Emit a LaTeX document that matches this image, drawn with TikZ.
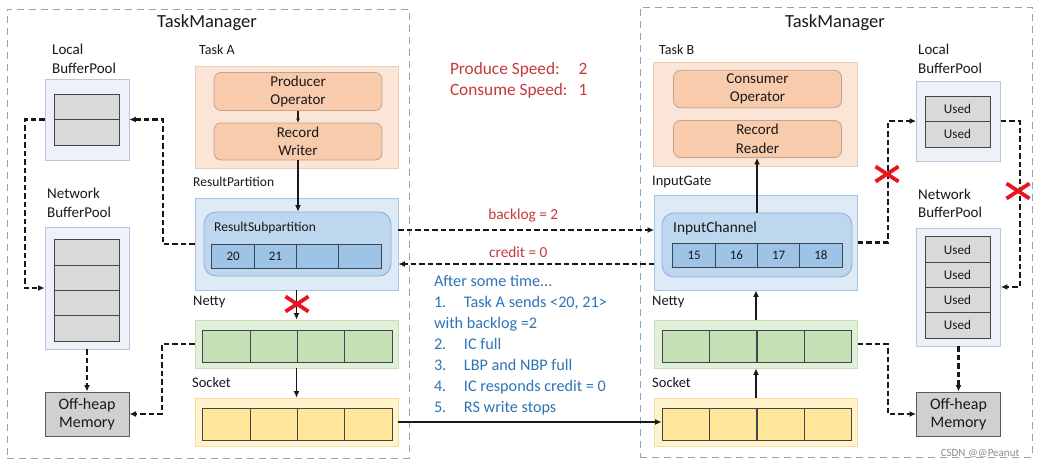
\documentclass[tikz,border=0pt]{standalone}
\usepackage{fontspec}
\setmainfont{Carlito}
\usetikzlibrary{arrows.meta,shapes.misc}

\definecolor{tmline}{HTML}{8FA3BF}
\definecolor{taskfill}{HTML}{FBE5D6}
\definecolor{taskline}{HTML}{EDCBB3}
\definecolor{opfill}{HTML}{F8CBAD}
\definecolor{opline}{HTML}{C4A38D}
\definecolor{rpfill}{HTML}{DEEBF7}
\definecolor{rpline}{HTML}{A9C4E4}
\definecolor{rspfill}{HTML}{BDD7EE}
\definecolor{rspline}{HTML}{8FAADC}
\definecolor{rcell}{HTML}{9DC3E6}
\definecolor{nettyfill}{HTML}{E2F0D9}
\definecolor{nettyline}{HTML}{C5E0B4}
\definecolor{ncell}{HTML}{C5E0B4}
\definecolor{sockfill}{HTML}{FFF2CC}
\definecolor{sockline}{HTML}{F3DE9E}
\definecolor{scell}{HTML}{FFE699}
\definecolor{poolfill}{HTML}{EEF1F8}
\definecolor{poolline}{HTML}{B8C6DE}
\definecolor{pcell}{HTML}{D9D9D9}
\definecolor{offfill}{HTML}{D0D0D0}
\definecolor{offline}{HTML}{5A5A5A}
\definecolor{celline}{HTML}{3E4650}
\definecolor{txtred}{HTML}{C8383C}
\definecolor{txtblue}{HTML}{2E75B6}
\definecolor{xred}{HTML}{E8141E}

\begin{document}
\begin{tikzpicture}[x=1pt,y=-1pt,
        every node/.style={inner sep=0pt,outer sep=0pt,text=black!90},
        ttl/.style={font=\fontsize{18.5}{20}\selectfont},
        link/.style={draw=black!90,line width=2.1pt,dash pattern=on 5.5pt off 3pt,-{Latex[length=6.5pt,width=6pt]}},
        flow/.style={draw=black!90,line width=1.9pt,-{Latex[length=6.5pt,width=6pt]}},
        redx/.style={cross out,draw=xred,line width=3.8pt,minimum width=23pt,minimum height=15pt}]
        \fill[white] (0,0) rectangle (1049,469);
        \useasboundingbox (0,0) rectangle (1049,469);

        % task managers
        \begin{scope}[every node/.style={draw=tmline,line width=1pt,dash pattern=on 7pt off 5pt,inner sep=0pt}]
            \node[minimum width=402pt,minimum height=449pt] (tmA) at (208,233.5) {};
            \node[minimum width=392pt,minimum height=450pt] (tmB) at (836,232) {};
        \end{scope}
        \node[ttl] (tmAt) at (207,23) {TaskManager};
        \node[ttl] (tmBt) at (835,23) {TaskManager};

        % buffer pools
        \begin{scope}[every node/.style={draw=poolline,fill=poolfill,line width=0.8pt,inner sep=0pt,minimum width=84pt}]
            \node[minimum height=81pt] (lbpA) at (87,119.5) {};
            \node[minimum height=122pt] (nbpA) at (87,288) {};
            \node[minimum height=80pt] (lbpB) at (958.5,121) {};
            \node[minimum height=118pt] (nbpB) at (958.5,287) {};
        \end{scope}
        \begin{scope}[every node/.style={draw=celline,fill=pcell,line width=1pt,inner sep=0pt,minimum width=65pt,minimum height=25.5pt,text=black!90,font=\fontsize{13.2}{14}\selectfont}]
            \node (lcA1) at (86.5,106.75) {};
            \node (lcA2) at (86.5,132.25) {};

            \node[minimum height=25.25pt] (ncA1) at (86.5,252.6) {};
            \node[minimum height=25.25pt] (ncA2) at (86.5,277.9) {};
            \node[minimum height=25.25pt] (ncA3) at (86.5,303.1) {};
            \node[minimum height=25.25pt] (ncA4) at (86.5,328.4) {};

            \node (lcB1) at (957.5,108.75) {Used};
            \node (lcB2) at (957.5,134.25) {Used};

            \node[minimum height=25.25pt] (ncB1) at (957.5,249.6) {Used};
            \node[minimum height=25.25pt] (ncB2) at (957.5,274.9) {Used};
            \node[minimum height=25.25pt] (ncB3) at (957.5,300.1) {Used};
            \node[minimum height=25.25pt] (ncB4) at (957.5,325.4) {Used};
        \end{scope}
        \begin{scope}[every node/.style={draw=offline,fill=offfill,line width=1pt,minimum width=84pt,minimum height=44pt,align=center,text=black!90,font=\fontsize{16}{17.5}\selectfont}]
            \node (offA) at (87,414) {Off-heap\\Memory};
            \node (offB) at (958.5,414) {Off-heap\\Memory};
        \end{scope}

        % tasks
        \begin{scope}[every node/.style={draw=taskline,fill=taskfill,line width=0.8pt}]
            \node[minimum width=203pt,minimum height=102pt] (taskA) at (296.5,117) {};
            \node[minimum width=204pt,minimum height=104pt] (taskB) at (755,114) {};
        \end{scope}
        \begin{scope}[every node/.style={draw=opline,fill=opfill,line width=0.8pt,rounded corners=7pt,minimum width=168pt,minimum height=37pt,align=center,text=black!90,font=\fontsize{15}{18.5}\selectfont}]
            \node (prod) at (298,91.5) {Producer\\Operator};
            \node (rw) at (298,141.5) {Record\\Writer};
            \node (cons) at (757.5,89) {Consumer\\Operator};
            \node (rr) at (757.5,139) {Record\\Reader};
        \end{scope}

        % result partition / input gate
        \begin{scope}[every node/.style={draw=rpline,fill=rpfill,line width=0.8pt,minimum width=203pt}]
            \node[minimum height=92pt] (rpA) at (296.5,244) {};
            \node[minimum height=95pt] (igB) at (756,242.5) {};
        \end{scope}
        \begin{scope}[every node/.style={draw=rspline,fill=rspfill,line width=0.8pt,rounded corners=12pt,minimum height=64pt}]
            \node[minimum width=187pt] (rspA) at (297.5,244) {};
            \node[minimum width=190pt] (icB) at (757,245) {};
        \end{scope}
        \begin{scope}[every node/.style={draw=celline,fill=rcell,line width=1pt,minimum width=42.25pt,minimum height=24pt,text=black!90,font=\fontsize{13}{14}\selectfont}]
            \node (rcA1) at (233.1,256) {20};
            \node (rcA2) at (275.4,256) {21};
            \node (rcA3) at (317.6,256) {};
            \node (rcA4) at (359.9,256) {};

            \node (icB1) at (694.1,255) {15};
            \node (icB2) at (736.4,255) {16};
            \node (icB3) at (778.6,255) {17};
            \node (icB4) at (820.9,255) {18};
        \end{scope}

        % netty and socket
        \begin{scope}[every node/.style={line width=0.8pt,minimum width=203pt,minimum height=48pt}]
            \node[draw=nettyline,fill=nettyfill] (nettyA) at (296.5,344) {};
            \node[draw=nettyline,fill=nettyfill] (nettyB) at (756,344) {};
            \node[draw=sockline,fill=sockfill] (sockA) at (296.5,422) {};
            \node[draw=sockline,fill=sockfill] (sockB) at (756,422) {};
        \end{scope}
        \begin{scope}[every node/.style={draw=celline,line width=1pt,minimum width=47.3pt,minimum height=32pt}]
            \node[fill=ncell] (ntA1) at (226.6,346) {};
            \node[fill=ncell] (ntA2) at (273.9,346) {};
            \node[fill=ncell] (ntA3) at (321.1,346) {};
            \node[fill=ncell] (ntA4) at (368.4,346) {};

            \node[fill=scell] (scA1) at (226.6,424) {};
            \node[fill=scell] (scA2) at (273.9,424) {};
            \node[fill=scell] (scA3) at (321.1,424) {};
            \node[fill=scell] (scA4) at (368.4,424) {};

            \node[fill=ncell] (ntB1) at (685.75,346) {};
            \node[fill=ncell] (ntB2) at (733.25,346) {};
            \node[fill=ncell] (ntB3) at (780.75,346) {};
            \node[fill=ncell] (ntB4) at (828.25,346) {};

            \node[fill=scell] (scB1) at (685.75,424) {};
            \node[fill=scell] (scB2) at (733.25,424) {};
            \node[fill=scell] (scB3) at (780.75,424) {};
            \node[fill=scell] (scB4) at (828.25,424) {};
        \end{scope}

        % labels
        \begin{scope}[every node/.style={anchor=west,align=left,inner sep=0pt,text=black!90,font=\fontsize{14.5}{18.5}\selectfont}]
            \node[font=\fontsize{15}{18.5}\selectfont] (lbpAl) at (52,59) {Local\\BufferPool};
            \node[font=\fontsize{15}{18.5}\selectfont] (nbpAl) at (47,203) {Network\\BufferPool};
            \node[font=\fontsize{14}{18}\selectfont] (taskAl) at (199,50) {Task A};
            \node[font=\fontsize{13.5}{18}\selectfont] (rpAl) at (193,182) {ResultPartition};
            \node[font=\fontsize{13.5}{18}\selectfont] (rspAl) at (214,228) {ResultSubpartition};
            \node (nettyAl) at (193,302) {Netty};
            \node (sockAl) at (192,383) {Socket};

            \node[font=\fontsize{14}{18}\selectfont] (taskBl) at (659,50) {Task B};
            \node (igBl) at (652,182) {InputGate};
            \node[font=\fontsize{15.3}{18}\selectfont] (icBl) at (673,228) {InputChannel};
            \node (nettyBl) at (652,302) {Netty};
            \node (sockBl) at (652,383) {Socket};
            \node[font=\fontsize{15}{18.5}\selectfont] (lbpBl) at (918,59) {Local\\BufferPool};
            \node[font=\fontsize{15}{18.5}\selectfont] (nbpBl) at (918,203.5) {Network\\BufferPool};
        \end{scope}

        % data flow
        \path (prod.south) edge[flow,line width=1.3pt,-{Latex[length=4pt,width=4pt]}] (rw.north);
        \path (rw.south) edge[flow] (rw.south |- rspA.north);
        \path (rpA.south) edge[flow] (nettyA.north);
        \path (nettyA.south) edge[flow] (sockA.north);
        \path (sockA.east) edge[flow] (sockA.east -| scB1.west);
        \path (sockB.north) edge[flow] (nettyB.south);
        \path (nettyB.north) edge[flow] (igB.south);
        \path (icB.north) edge[flow] (icB.north |- rr.south);

        % buffer requests
        \draw[link] (lbpA.west) -- ++(-20,0) |- (nbpA.west);
        \draw[link] (rpA.west) -- ++(-32,0) |- (lbpA.east);
        \draw[link] (nettyA.west) -- ++(-33,0) |- (offA.east);
        \path (nbpA.south) edge[link] (offA.north);
        \draw[link] (igB.east) -- ++(30,0) |- (lbpB.west);
        \draw[link] (lbpB.east) -- ++(19,0) |- (nbpB.east);
        \draw[link] (nettyB.east) -- ++(30,0) |- (offB.west);
        \path (nbpB.south) edge[link] (offB.north);

        % backlog and credit
        \draw[link] ([yshift=14pt]rpA.east) -- ([yshift=14pt]rpA.east -| igB.west)
            node[midway,above=8pt,xshift=-3pt,text=txtred,font=\fontsize{15.3}{17}\selectfont] (backlog) {backlog = 2};
        \draw[link] ([yshift=-21.5pt]igB.west) -- ([yshift=-21.5pt]igB.west -| rpA.east)
            node[midway,above=6pt,xshift=-8pt,text=txtred,font=\fontsize{15.3}{17}\selectfont] (credit) {credit = 0};

        \node[redx] (xA) at (297,304) {};
        \node[redx] (xB1) at (887,174) {};
        \node[redx] (xB2) at (1018,191) {};

        % notes
        \node[anchor=west,text=txtred,font=\fontsize{17.3}{21}\selectfont] (speed) at (450,80.5)
            {\begin{tabular}{@{}l@{\hspace{11pt}}l@{}}Produce Speed: & 2\\ Consume Speed: & 1\end{tabular}};
        \node[anchor=west,align=left,text=txtblue,font=\fontsize{16.2}{21}\selectfont] (steps) at (434,345)
            {After some time...\\
             \makebox[30pt][l]{1.}Task A sends <20, 21>\\
             with backlog =2\\
             \makebox[30pt][l]{2.}IC full\\
             \makebox[30pt][l]{3.}LBP and NBP full\\
             \makebox[30pt][l]{4.}IC responds credit = 0\\
             \makebox[30pt][l]{5.}RS write stops};
        \node[text=black!45,font=\fontsize{11}{12}\selectfont] (wm) at (980,454) {CSDN @@Peanut};
    \end{tikzpicture}
\end{document}
